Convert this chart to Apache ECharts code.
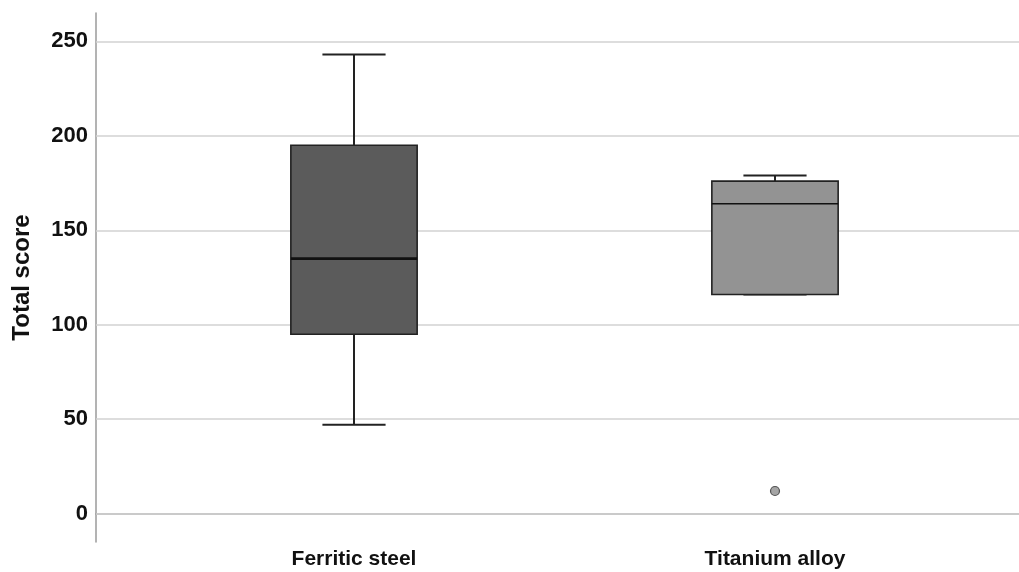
<!DOCTYPE html>
<html>
<head>
<meta charset="utf-8">
<script src="https://cdn.jsdelivr.net/npm/echarts@6/dist/echarts.min.js"></script>
<style>
html,body{margin:0;padding:0;background:#fff;}
#chart{width:1019px;height:572px;}
</style>
</head>
<body>
<div id="chart"></div>
<script>
// ---- data ----
const categories = ['Ferritic steel', 'Titanium alloy'];
const whiskerLow = [47, 116];
const q1 = [95, 116];
const median = [135, 164];
const q3 = [195, 176];
const whiskerHigh = [243, 179];
const outlierCategory = ['Titanium alloy'];
const outlierValue = [12];
const yTicks = [0, 50, 100, 150, 200, 250];
const yLabel = 'Total score';

// ---- styles ----
const boxFill = ['#5b5b5b', '#939393'];
const medianWidth = [2.6, 1.6];
const FONT = 'Liberation Sans, Arial, sans-serif';

const boxData = categories.map((c, i) => [i, whiskerLow[i], q1[i], median[i], q3[i], whiskerHigh[i]]);
const outlierData = outlierCategory.map((c, i) => [categories.indexOf(c), outlierValue[i]]);

const chart = echarts.init(document.getElementById('chart'));
const Y_MIN = -15, Y_MAX = 265;

chart.setOption({
  backgroundColor: '#ffffff',
  animation: false,
  grid: [
    {left: 96, right: 0, top: 13, bottom: 30},
    {left: 143.5, right: 33.5, top: 13, bottom: 30}
  ],
  xAxis: [
    {gridIndex: 0, type: 'value', min: 0, max: 1,
     axisLine: {show: true, lineStyle: {color: '#9a9a9a', width: 1.5}},
     axisTick: {show: false}, axisLabel: {show: false}, splitLine: {show: false}},
    {gridIndex: 1, type: 'category', data: categories,
     axisLine: {show: false}, axisTick: {show: false},
     axisLabel: {color: '#111', fontFamily: FONT, fontSize: 21, fontWeight: 'bold', margin: 7}}
  ],
  yAxis: [
    {gridIndex: 0, type: 'value', min: Y_MIN, max: Y_MAX, interval: 5,
     name: yLabel, nameLocation: 'middle', nameGap: 62,
     nameTextStyle: {color: '#111', fontFamily: FONT, fontSize: 24, fontWeight: 'bold'},
     axisLine: {show: true, lineStyle: {color: '#9a9a9a', width: 1.5}},
     axisTick: {show: false},
     axisLabel: {color: '#111', fontFamily: FONT, fontSize: 22, fontWeight: 'bold', margin: 8,
       formatter: v => (yTicks.indexOf(Math.round(v)) >= 0 && Math.abs(v - Math.round(v)) < 1e-6) ? String(Math.round(v)) : ''},
     splitLine: {show: false}},
    {gridIndex: 1, type: 'value', min: Y_MIN, max: Y_MAX, show: false}
  ],
  series: [
    {type: 'line', xAxisIndex: 0, yAxisIndex: 0, data: [], z: 1,
     markLine: {silent: true, symbol: 'none', label: {show: false},
       lineStyle: {color: '#d2d2d2', width: 1.5, type: 'solid'},
       data: yTicks.map(t => ({yAxis: t}))}},
    {type: 'custom', xAxisIndex: 1, yAxisIndex: 1, z: 5, data: boxData,
     renderItem: function (params, api) {
       const i = api.value(0);
       const bw = api.size([1, 0])[0] * 0.30;
       const half = bw / 2, capHalf = bw / 4;
       const pLow = api.coord([i, api.value(1)]);
       const pQ1 = api.coord([i, api.value(2)]);
       const pMed = api.coord([i, api.value(3)]);
       const pQ3 = api.coord([i, api.value(4)]);
       const pHigh = api.coord([i, api.value(5)]);
       const x = pMed[0];
       const ls = {stroke: '#222', lineWidth: 2};
       return {type: 'group', children: [
         {type: 'line', shape: {x1: x, y1: pQ3[1], x2: x, y2: pHigh[1]}, style: ls},
         {type: 'line', shape: {x1: x, y1: pQ1[1], x2: x, y2: pLow[1]}, style: ls},
         {type: 'line', shape: {x1: x - capHalf, y1: pHigh[1], x2: x + capHalf, y2: pHigh[1]}, style: ls},
         {type: 'line', shape: {x1: x - capHalf, y1: pLow[1], x2: x + capHalf, y2: pLow[1]}, style: ls},
         {type: 'rect', shape: {x: x - half, y: pQ3[1], width: bw, height: pQ1[1] - pQ3[1]},
          style: {fill: boxFill[i], stroke: '#222', lineWidth: 1.6}},
         {type: 'line', shape: {x1: x - half, y1: pMed[1], x2: x + half, y2: pMed[1]},
          style: {stroke: '#111', lineWidth: medianWidth[i]}}
       ]};
     }},
    {type: 'scatter', xAxisIndex: 1, yAxisIndex: 1, z: 6, data: outlierData,
     symbol: 'circle', symbolSize: 9,
     itemStyle: {color: '#8e8e8e', borderColor: '#333', borderWidth: 1.2}}
  ]
});
</script>
</body>
</html>
